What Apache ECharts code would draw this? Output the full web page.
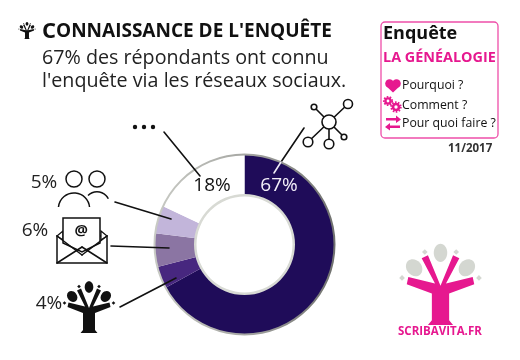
<!DOCTYPE html>
<html><head><meta charset="utf-8">
<style>html,body{margin:0;padding:0;background:#fff}#c{width:520px;height:360px}</style>
<script src="https://cdn.jsdelivr.net/npm/echarts@6/dist/echarts.min.js"></script>
</head><body><div id="c"></div>
<script>
const categories = ['Réseaux sociaux','Scribavita','E-mail','Bouche à oreille','Autres'];
const values = [67,4,6,5,18];
const colors = ['#1f0c59','#47277f','#8b75a3','#c2b5da','#ffffff'];
const labelColors = ['#f4f0fa','#222','#222','#222','#111'];
const F = '"Open Sans", Lato, sans-serif';
const BK = '#111';
const PINK = '#e6188f';
const chart = echarts.init(document.getElementById('c'), null, {renderer:'canvas'});

function txt(x,y,text,size,opt){
  return {type:'text',z:30,style:Object.assign({x:x,y:y,text:text,fontFamily:F,fontSize:size,fill:BK,textVerticalAlign:'middle'},opt||{})};
}
function line(x1,y1,x2,y2,w,col){
  return {type:'line',z:30,shape:{x1,y1,x2,y2},style:{stroke:col||BK,lineWidth:w||1.6,lineCap:'round'}};
}
function circ(cx,cy,r,w,fill,stroke,dash){
  return {type:'circle',z:30,shape:{cx,cy,r},style:{fill:fill||'#fff',stroke:stroke===undefined?BK:stroke,lineWidth:w===undefined?1.6:w,lineDash:dash||null}};
}
function ell(cx,cy,rx,ry,rot,fill){
  return {type:'ellipse',z:30,x:cx,y:cy,rotation:rot,shape:{cx:0,cy:0,rx,ry},style:{fill}};
}
function poly(points,fill,stroke,w){
  return {type:'polygon',z:30,shape:{points},style:{fill:fill||'none',stroke:stroke||null,lineWidth:w||1}};
}
function arc(cx,cy,r,a0,a1,w){
  return {type:'arc',z:30,shape:{cx,cy,r,startAngle:a0,endAngle:a1,clockwise:true},style:{stroke:BK,lineWidth:w||1.5,fill:'none'}};
}
function tree(cx,base,s,trunk,leaf,hw){
  hw=hw||6;
  const p=(a,b)=>[cx+a*s,base+b*s], out=[];
  out.push(poly([p(-hw-2.500,0),p(-hw,-3),p(-hw,-20),p(-21.500,-26),p(-20.500,-30.500),p(-hw+2,-26.500),p(-12,-42.500),p(-8,-44.500),p(0,-25),p(8,-44.500),p(12,-42.500),p(hw-2,-26.500),p(20.500,-30.500),p(21.500,-26),p(hw,-20),p(hw,-3),p(hw+2.500,0)],trunk));
  [[0,-46,4.300,5.800,0],[-16.800,-36.500,4.800,5.800,0.7],[16.800,-36.500,4.800,5.800,-0.7]].forEach(e=>out.push(ell(cx+e[0]*s,base+e[1]*s,e[2]*s,e[3]*s,e[4],leaf)));
  [[-10,-46.500],[10,-46.500],[-24.500,-30],[24.500,-30]].forEach(d=>{const r=1.800*s;const c=p(d[0],d[1]);out.push(poly([[c[0],c[1]-r],[c[0]+r,c[1]],[c[0],c[1]+r],[c[0]-r,c[1]]],leaf));});
  return out;
}

const g = [];
// header
g.push(...tree(27,39,0.33,BK,BK));
g.push({type:'text',z:30,style:{x:42,y:32,text:'{a|C}{b|ONNAISSANCE DE L\'ENQUÊTE}',rich:{a:{fontFamily:F,fontSize:22,fontWeight:'bold',fill:BK},b:{fontFamily:F,fontSize:19,fontWeight:'bold',fill:BK}},textVerticalAlign:'middle'}});
g.push(txt(42,58,'67% des répondants ont connu',19.700,{fill:'#222'}));
g.push(txt(42,81,'l\'enquête via les réseaux sociaux.',19.700,{fill:'#222'}));

// box
g.push({type:'rect',z:30,shape:{x:381,y:22,width:117,height:116,r:4},style:{fill:'none',stroke:'#ee4fa9',lineWidth:1.3}});
g.push(txt(383,34,'Enquête',18,{fontWeight:'bold',fill:'#111'}));
g.push(txt(383,58,'LA GÉNÉALOGIE',14.400,{fontWeight:'bold',fill:PINK}));
g.push(txt(402,85,'Pourquoi ?',12.300));
g.push(txt(402,105,'Comment ?',12.300));
g.push(txt(402,123,'Pour quoi faire ?',12.300));
g.push(circ(389.500,83.500,4.300,0,PINK,null),circ(396.500,83.500,4.300,0,PINK,null),poly([[385.500,85.500],[400.500,85.500],[393,92.500]],PINK));
g.push(circ(388,101,2.600,2.400,'none',PINK),circ(388,101,4.200,1.800,'none',PINK,[1.600,1.400]));
g.push(circ(396,107,3,2.600,'none',PINK),circ(396,107,4.800,1.800,'none',PINK,[1.600,1.400]));
g.push(poly([[386,118],[396,118],[396,115.500],[401,119.500],[396,123],[396,120.500],[386,120.500]],PINK));
g.push(poly([[400,125.500],[390,125.500],[390,123],[385,127],[390,130.500],[390,128],[400,128]],PINK));
g.push(txt(448,149,'11/2017',11.500,{fontWeight:'bold',fill:'#333'}));

// logo
g.push(...tree(440.500,325,1.570,PINK,'#d4d7d1',5.500));
g.push(txt(398,332,'SCRIBAVITA.FR',11.500,{fontWeight:'bold',fill:PINK}));

// leader lines
g.push(line(304,128,281,162),line(281,162,274,173,1.600,'#f0ecf6'),line(164,132,200,176),line(115,202,171,219),line(111,246,169,248),line(120,307,176,278));

// network icon
g.push(line(329,122,348,104),line(329,122,314,107),line(329,122,329,140),line(329,122,344,137),line(329,122,308,142));
g.push(circ(329,122,7),circ(348,104,4.500),circ(314,107,2.800),circ(329,144,4.800),circ(344,137,2.800),circ(308,142,4.800));
// dots
g.push(circ(135,127,2.200,0,BK,null),circ(144,127,2.200,0,BK,null),circ(153,127,2.200,0,BK,null));
// people
g.push(circ(74,179,8,1.500),circ(97,179,8,1.500));
g.push(arc(74,208.500,15.600,Math.PI*1.03,Math.PI*1.97),arc(97,204.500,12.700,Math.PI*1.25,Math.PI*1.85));
// envelope
g.push(poly([[57,236],[57,263],[107,263],[107,236]],'#fff',BK,1.500));
g.push(poly([[63,231],[57,236],[63,240]],'#fff',BK,1.200),poly([[101,231],[107,236],[101,240]],'#fff',BK,1.200));
g.push(poly([[63,218],[100,218],[100,243],[82,252],[63,243]],'#fff',BK,1.500));
g.push(line(57,263,82,247,1.500),line(107,263,82,247,1.500),line(57,236,82,255,1.500),line(107,236,82,255,1.500));
g.push(txt(74.500,231,'@',15,{fontWeight:'bold'}));
// black tree icon
g.push(...tree(89,333,1,BK,BK));
// rings
g.push({type:'ring',z:20,shape:{cx:244.500,cy:244.500,r:91,r0:89},style:{fill:new echarts.graphic.LinearGradient(0,0,1,0,[{offset:0,color:'#c9cbc5'},{offset:0.5,color:'#a6a7a3'},{offset:1,color:'#6f706e'}])}});
g.push({type:'ring',z:20,shape:{cx:244.500,cy:244.500,r:50.500,r0:48,},style:{fill:'#d8dad4'}});

// where each percentage sits (the big slice's label is set in its top part)
const labelPos = [[279,186],[49,304],[35,231],[44,183],[212,186]];

const data = categories.map((n,i)=>({
  name:n,value:values[i],itemStyle:{color:colors[i]},
  label:{color:labelColors[i]}
}));

chart.setOption({
  animation:false,
  series:[{
    type:'pie',radius:[49,90],center:[244.500,244.500],startAngle:90,clockwise:true,silent:true,
    label:{position:'inside',formatter:'{d}%',fontFamily:F,fontSize:19},
    labelLine:{show:false},
    labelLayout:p=>({x:labelPos[p.dataIndex][0],y:labelPos[p.dataIndex][1],align:'center',verticalAlign:'middle'}),
    data
  }],
  graphic:g
});
</script></body></html>
